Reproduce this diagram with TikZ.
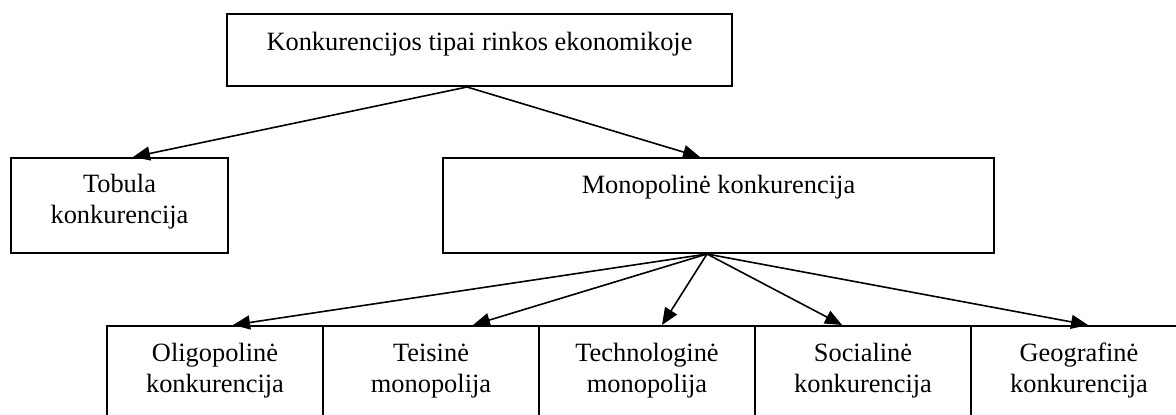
\documentclass[tikz,border=0pt]{standalone}
\usepackage{fontspec}
\setmainfont{Liberation Serif}
\usetikzlibrary{arrows.meta,calc}

\tikzset{
  box/.style={draw, line width=1pt, inner sep=0pt},
  lbl/.style={anchor=base, inner sep=0pt, align=center,
              font=\fontsize{13.2}{15.5}\selectfont},
  conn/.style={line width=0.8pt, -{Triangle[length=8.5pt,width=7pt]}},
}

\begin{document}
\begin{tikzpicture}[x=0.5pt, y=-0.5pt]
  \useasboundingbox (0,0) rectangle (1176,414);
  \fill[white] (0,0) rectangle (1176,414);
  \clip (0,0) rectangle (1176,414);

  % upper levels
  \node[box, minimum width=252.5pt, minimum height=36pt] (top) at (479.5,50) {};
  \node[box, minimum width=108.5pt, minimum height=47.5pt] (tob) at (119.5,205.5) {};
  \node[box, minimum width=275.5pt, minimum height=47.5pt] (mono) at (718.5,205.5) {};

  % labels, placed by the baseline of their last line
  \node[lbl] (toptxt) at (479.5,50) {Konkurencijos tipai rinkos ekonomikoje};
  \node[lbl] (tobtxt) at (119.5,223) {Tobula\\konkurencija};
  \node[lbl] (monotxt) at (718.5,193) {Monopolinė konkurencija};

  % bottom row (runs past the page edge)
  \foreach \n/\cx in {b1/215, b2/431, b3/647, b4/863, b5/1079}
    \node[box, minimum width=108pt, minimum height=57pt] (\n) at (\cx,383) {};

  \node[lbl] (b1txt) at (215,392) {Oligopolinė\\konkurencija};
  \node[lbl] (b2txt) at (431,392) {Teisinė\\monopolija};
  \node[lbl] (b3txt) at (647,392) {Technologinė\\monopolija};
  \node[lbl] (b4txt) at (863,392) {Socialinė\\konkurencija};
  \node[lbl] (b5txt) at (1079,392) {Geografinė\\konkurencija};

  % connectors
  \coordinate (topout) at ([xshift=-6.25pt]top.south);
  \coordinate (monoout) at ([xshift=-5.75pt]mono.south);

  \draw[conn] (topout) -- ([xshift=6.75pt]tob.north);
  \draw[conn] (topout) -- ([xshift=-9.25pt]mono.north);

  \draw[conn] (monoout) -- ([xshift=9pt]b1.north);
  \draw[conn] (monoout) -- ([xshift=21pt]b2.north);
  \draw[conn] (monoout) -- ([xshift=7.5pt]b3.north);
  \draw[conn] (monoout) -- ([xshift=-10.5pt]b4.north);
  \draw[conn] (monoout) -- ([xshift=4.5pt]b5.north);
\end{tikzpicture}
\end{document}
